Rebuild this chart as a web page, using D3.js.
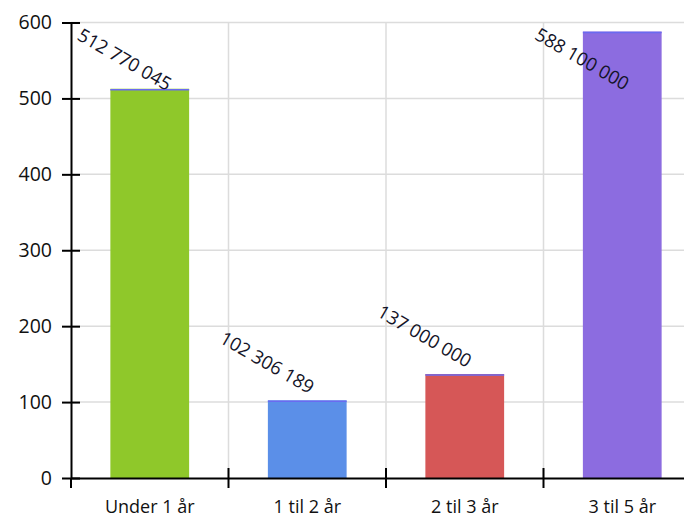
<!DOCTYPE html>
<html>
<head>
<meta charset="utf-8">
<script src="https://cdn.jsdelivr.net/npm/d3@7"></script>
<style>
  html, body { margin: 0; padding: 0; background: #fff; }
  svg { display: block; }
  text { font-family: "Open Sans", "DejaVu Sans", sans-serif; }
</style>
</head>
<body>
<svg id="chart" width="684" height="523"></svg>
<script>
const categories = ["Under 1 år", "1 til 2 år", "2 til 3 år", "3 til 5 år"];
const values = [512.770045, 102.306189, 137.0, 588.1];        // millions
const valueLabels = ["512 770 045", "102 306 189", "137 000 000", "588 100 000"];
const colors = ["#8fc82a", "#5b8fe8", "#d65757", "#8c6ce0"];
const yTicks = [0, 100, 200, 300, 400, 500, 600];

const svg = d3.select("#chart");
const x0 = 71, x1 = 701, yTop = 22.5, yBot = 478;

const x = d3.scaleBand().domain(categories).range([x0, x1]).padding(0);
const y = d3.scaleLinear().domain([0, 600]).range([yBot, yTop]);

// gridlines
const grid = svg.append("g");
grid.selectAll("line.h").data(yTicks.filter(d => d > 0)).join("line")
  .attr("x1", x0).attr("x2", 684)
  .attr("y1", d => y(d)).attr("y2", d => y(d))
  .attr("stroke", "#dcdcdc").attr("stroke-width", 1.5);
grid.selectAll("line.v").data(categories.slice(1)).join("line")
  .attr("x1", d => x(d)).attr("x2", d => x(d))
  .attr("y1", yTop).attr("y2", yBot)
  .attr("stroke", "#dcdcdc").attr("stroke-width", 1.5);

// bars
const bw = x.bandwidth() / 2;
const bars = svg.append("g");
bars.selectAll("rect").data(values).join("rect")
  .attr("x", (d, i) => x(categories[i]) + x.bandwidth() / 4)
  .attr("width", bw)
  .attr("y", d => y(d))
  .attr("height", d => yBot - y(d))
  .attr("fill", (d, i) => colors[i]);
bars.selectAll("line").data(values).join("line")
  .attr("x1", (d, i) => x(categories[i]) + x.bandwidth() / 4)
  .attr("x2", (d, i) => x(categories[i]) + x.bandwidth() / 4 + bw)
  .attr("y1", d => y(d) + 1).attr("y2", d => y(d) + 1)
  .attr("stroke", "#6a6af0").attr("stroke-width", 1.5);

// y axis
const yAxis = d3.axisLeft(y).tickValues(yTicks).tickSizeInner(0).tickSizeOuter(0).tickPadding(19);
const ya = svg.append("g").attr("transform", `translate(${x0},0)`).call(yAxis);
ya.select(".domain").attr("stroke", "#000").attr("stroke-width", 2);
ya.selectAll(".tick text").attr("font-size", "19.5px").attr("fill", "#111")
  .attr("font-family", "'Open Sans', sans-serif");
ya.selectAll(".tick").append("line")
  .attr("x1", -9).attr("x2", 9).attr("stroke", "#000").attr("stroke-width", 2);

// x axis
const xAxis = d3.axisBottom(x).tickSize(0).tickPadding(22);
const xa = svg.append("g").attr("transform", `translate(0,${yBot})`).call(xAxis);
xa.select(".domain").attr("stroke", "#000").attr("stroke-width", 2);
xa.selectAll(".tick text").attr("font-size", "18px").attr("fill", "#111")
  .attr("font-family", "'Open Sans', sans-serif");
svg.append("g").selectAll("line").data(categories).join("line")
  .attr("x1", d => x(d)).attr("x2", d => x(d))
  .attr("y1", (d, i) => i === 0 ? yBot : yBot - 10).attr("y2", yBot + 10)
  .attr("stroke", "#000").attr("stroke-width", 2);

// value labels, rotated 30deg, kept inside the plot area
const ang = 30, rad = ang * Math.PI / 180;
const lbl = svg.append("g");
values.forEach((v, i) => {
  const t = lbl.append("text")
    .attr("font-size", "18.5px").attr("fill", "#141428")
    .attr("text-anchor", "end")
    .text(valueLabels[i]);
  const L = t.node().getComputedTextLength();
  let ax = x(categories[i]) + x.bandwidth() / 2 + 2;
  let ay = y(v) - 6;
  // start x must stay right of the axis: slide along text direction
  const startX = ax - L * Math.cos(rad);
  const minX = x0 + 5;
  if (startX < minX) {
    const s = (minX - startX) / Math.cos(rad);
    ax += s * Math.cos(rad); ay += s * Math.sin(rad);
  }
  // top of text must stay below the chart top: push down
  const topY = ay - L * Math.sin(rad) - 12;
  const minY = yTop + 4;
  if (topY < minY) ay += (minY - topY);
  t.attr("transform", `translate(${ax},${ay}) rotate(${ang})`);
});
</script>
</body>
</html>
